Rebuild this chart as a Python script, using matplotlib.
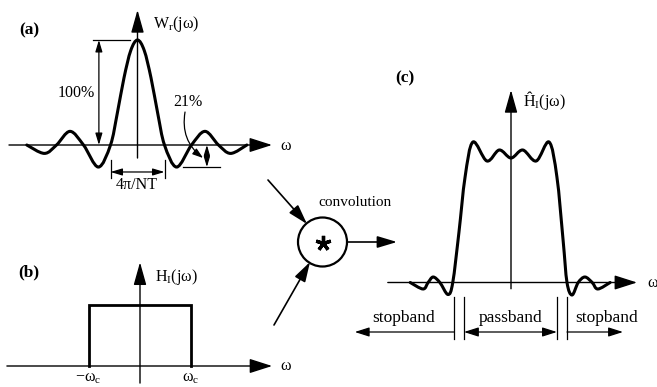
import numpy as np
import matplotlib
matplotlib.use("Agg")
import matplotlib.pyplot as plt
from matplotlib.path import Path
from matplotlib.patches import PathPatch, Circle

plt.rcParams['font.family'] = ['Liberation Serif', 'DejaVu Serif']
plt.rcParams['mathtext.fontset'] = 'custom'
plt.rcParams['mathtext.rm'] = 'Liberation Serif'
plt.rcParams['mathtext.it'] = 'Liberation Serif:italic'

W, H = 657, 387  # figure size in pixels

# (a) window spectrum W_r(jw): omega in units of 2*pi/NT, amplitude in % of peak
omega_a = [-4.1, -3.45, -3.0, -2.5, -2.0, -1.45, -1.0, -0.75, -0.5, -0.25, 0.0,
           0.25, 0.5, 0.75, 1.0, 1.45, 2.0, 2.5, 3.0, 3.45, 4.05]
amp_a = [0, -8, 0, 13, 0, -21, 0, 30, 64, 90, 100,
         90, 64, 30, 0, -21, 0, 13, 0, -8, 0]
peak_pct = 100
sidelobe_pct = -21

# (b) ideal lowpass H_I(jw): omega in units of omega_c
omega_b = [-1, -1, 1, 1]
amp_b = [0, 1, 1, 0]

# (c) windowed result: omega in units of omega_c
omega_c = [-1.80, -1.57, -1.48, -1.39, -1.27, -1.125, -1.04, -0.93, -0.82, -0.68,
           -0.43, -0.21, 0.0, 0.21, 0.45, 0.68, 0.82, 0.93, 1.0, 1.09, 1.2,
           1.32, 1.45, 1.55, 1.77]
amp_c = [0, -0.052, 0, 0.044, 0, -0.096, 0, 0.40, 0.844, 1.124,
         0.972, 1.06, 0.996, 1.06, 0.972, 1.124, 0.844, 0.34, 0, -0.10, 0,
         0.044, 0, -0.052, 0]
band_edges = [-1.02, -0.84, 0.82, 1.0]

fig = plt.figure(figsize=(W / 100, H / 100), dpi=100)


def panel(ox, oy, sx, sy):
    # full-figure transparent axes whose origin sits at pixel (ox, oy)
    ax = fig.add_axes([0, 0, 1, 1])
    ax.set_xlim(-ox / sx, (W - ox) / sx)
    ax.set_ylim(-(H - oy) / sy, oy / sy)
    ax.axis('off')
    ax.patch.set_alpha(0)
    return ax


def arrow(ax, x0, y0, x1, y1, style='-|>', hl=0.9, hw=0.3, ms=12, lw=1.0):
    ax.annotate('', xy=(x1, y1), xytext=(x0, y0),
                arrowprops=dict(arrowstyle=f'{style},head_length={hl},head_width={hw}',
                                mutation_scale=ms, lw=lw, color='k',
                                shrinkA=0, shrinkB=0))


def smooth_line(ax, x, y, lw=2.2):
    # Catmull-Rom curve through the points, as cubic bezier segments
    p = np.column_stack([x, y]).astype(float)
    ext = np.vstack([p[0], p, p[-1]])
    verts, codes = [p[0]], [Path.MOVETO]
    for i in range(1, len(ext) - 2):
        c1 = ext[i] + (ext[i + 1] - ext[i - 1]) / 6
        c2 = ext[i + 1] - (ext[i + 2] - ext[i]) / 6
        verts += [c1, c2, ext[i + 1]]
        codes += [Path.CURVE4] * 3
    ax.add_patch(PathPatch(Path(verts, codes), fill=False, lw=lw,
                           ec='k', capstyle='round', joinstyle='round'))


def label(x, y, s, **kw):
    kw.setdefault('fontsize', 11.5)
    kw.setdefault('ha', 'center')
    kw.setdefault('va', 'center')
    fig.text(x / W, 1 - y / H, s, **kw)


# ---- (a) ----
axa = panel(137.5, 145, 27, 1.05)
arrow(axa, -4.76, 0, 4.98, 0, ms=14, hl=1.0, hw=0.32)
arrow(axa, 0, -12.4, 0, 128.6, ms=14, hl=1.0, hw=0.28)
smooth_line(axa, omega_a, amp_a)
# 100% dimension
axa.plot([-1.65, -0.28], [peak_pct, peak_pct], color='k', lw=0.9)
arrow(axa, -1.43, 0, -1.43, peak_pct, style='<|-|>', ms=7, hl=1.0, hw=0.3, lw=0.9)
# main lobe width
for w in (-1, 1):
    axa.plot([w, w], [-14.3, -31.4], color='k', lw=0.9)
arrow(axa, -1, -25.7, 1, -25.7, style='<|-|>', ms=7, hl=1.0, hw=0.3, lw=0.9)
# 21% sidelobe dimension
axa.plot([1.69, 3.06], [sidelobe_pct, sidelobe_pct], color='k', lw=0.9)
arrow(axa, 2.57, 0, 2.57, sidelobe_pct, style='<|-|>', ms=6, hl=1.0, hw=0.3, lw=0.9)
axa.annotate('', xy=(2.43, -12.4), xytext=(1.76, 31.4),
             arrowprops=dict(arrowstyle='-|>,head_length=0.9,head_width=0.3',
                             mutation_scale=7, lw=0.9, color='k',
                             shrinkA=0, shrinkB=0,
                             connectionstyle='arc3,rad=0.3'))

label(29, 30, '(a)', fontweight='bold', fontsize=12.5)
label(153, 24, r'W$_\mathrm{r}$(jω)', ha='left')
label(76, 93, f'{peak_pct}%')
label(188, 102, f'{-sidelobe_pct}%')
label(137, 185, '4π/NT')
label(280, 146, 'ω', ha='left')

# ---- (b) ----
axb = panel(140, 366, 51, 61)
arrow(axb, -2.61, 0, 2.59, 0, ms=14, hl=1.0, hw=0.32)
arrow(axb, 0, -0.28, 0, 1.70, ms=14, hl=1.0, hw=0.28)
axb.plot(omega_b, amp_b, color='k', lw=2.0, solid_joinstyle='miter')
label(29, 272, '(b)', fontweight='bold', fontsize=12.5)
label(155, 277, r'H$_\mathrm{I}$(jω)', ha='left')
label(88, 378, r'−ω$_\mathrm{c}$')
label(191, 378, r'ω$_\mathrm{c}$')
label(280, 366, 'ω', ha='left')

# ---- convolution block (pixel units around the circle centre) ----
axk = panel(322.5, 242, 1, 1)
axk.add_patch(Circle((0, 0), 24.5, fill=False, lw=1.6, ec='k'))
axk.plot(0, -1, marker=(5, 2, 0), ms=11, mew=2.4, color='k')
arrow(axk, -54.5, 62, -15.5, 18, ms=12, hl=1.0, hw=0.3, lw=1.2)
arrow(axk, -48.5, -83, -12.5, -20, ms=12, hl=1.0, hw=0.3, lw=1.2)
arrow(axk, 24.5, 0, 74.5, 0, ms=12, hl=1.0, hw=0.3, lw=1.2)
label(355, 202, 'convolution', fontsize=11)

# ---- (c) ----
axc = panel(511, 282.5, 56, 125)
arrow(axc, -2.2, 0, 2.25, 0, ms=14, hl=1.0, hw=0.32)
arrow(axc, 0, -0.05, 0, 1.54, ms=14, hl=1.0, hw=0.28)
smooth_line(axc, omega_c, amp_c)
for e in band_edges:
    axc.plot([e, e], [-0.116, -0.452], color='k', lw=0.9)
arrow(axc, band_edges[0], -0.396, -2.79, -0.396, ms=8, hl=1.1, hw=0.35, lw=0.9)
arrow(axc, band_edges[1], -0.396, band_edges[2], -0.396, style='<|-|>',
      ms=8, hl=1.1, hw=0.35, lw=0.9)
arrow(axc, band_edges[3], -0.396, 2.0, -0.396, ms=8, hl=1.1, hw=0.35, lw=0.9)
label(405, 78, '(c)', fontweight='bold', fontsize=12.5)
label(523, 100, r'Ĥ$_\mathrm{I}$(jω)', ha='left')
label(647, 283, 'ω', ha='left')
label(404, 318, 'stopband', fontsize=12.5)
label(511, 318, 'passband', fontsize=12.5)
label(607, 318, 'stopband', fontsize=12.5)

fig.savefig('out.png', dpi=100)
